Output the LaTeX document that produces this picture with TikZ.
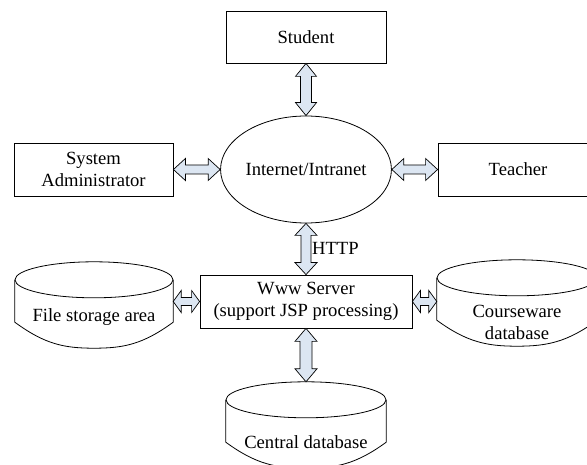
\documentclass[tikz,border=0pt]{standalone}
\usepackage{fontspec}
\setmainfont{Liberation Serif}
\usetikzlibrary{shapes.geometric,calc}
\definecolor{arrfill}{HTML}{DCE6F2}
\newcommand\fsz{\fontsize{18.6}{21.5}\selectfont}
\tikzset{
  box/.style={draw, line width=0.8pt, inner sep=0pt, align=center, font=\fsz},
  txt/.style={inner sep=0pt, align=center, font=\fsz},
  barrow/.style={draw, fill=arrfill, line width=0.7pt, line join=miter},
  cylline/.style={draw, line width=0.8pt},
}
% vertical double block arrow: from, to, shaft half, head half, head length
\newcommand\vdarr[5]{%
  \path[barrow] let \p1=(#1), \p2=(#2) in
    (\x1,\y1) -- (\x1+#4pt,\y1-#5pt) -- (\x1+#3pt,\y1-#5pt) -- (\x1+#3pt,\y2+#5pt)
    -- (\x1+#4pt,\y2+#5pt) -- (\x1,\y2) -- (\x1-#4pt,\y2+#5pt) -- (\x1-#3pt,\y2+#5pt)
    -- (\x1-#3pt,\y1-#5pt) -- (\x1-#4pt,\y1-#5pt) -- cycle;}
% horizontal double block arrow: left, right, shaft half, head half, head length
\newcommand\hdarr[5]{%
  \path[barrow] let \p1=(#1), \p2=(#2) in
    (\x1,\y1) -- (\x1+#5pt,\y1+#4pt) -- (\x1+#5pt,\y1+#3pt) -- (\x2-#5pt,\y1+#3pt)
    -- (\x2-#5pt,\y1+#4pt) -- (\x2,\y1) -- (\x2-#5pt,\y1-#4pt) -- (\x2-#5pt,\y1-#3pt)
    -- (\x1+#5pt,\y1-#3pt) -- (\x1+#5pt,\y1-#4pt) -- cycle;}
% cylinder: name, cx, ytop, width
\newcommand\cyl[4]{%
  \node[minimum width=#4pt, minimum height=60pt, inner sep=0pt] (#1) at (#2,#3+30) {};
  \draw[cylline] ($(#1.north)+(0,18)$) ellipse [x radius=#4/2, y radius=18];
  \draw[cylline] ($(#1.north west)+(0,18)$) -- (#1.south west)
    .. controls ($(#1.south west)+(30,22)$) and ($(#1.south)+(-30,26)$) .. ($(#1.south)+(0,26)$)
    .. controls ($(#1.south)+(30,26)$) and ($(#1.south east)+(-30,22)$) .. (#1.south east)
    -- ($(#1.north east)+(0,18)$);}
\begin{document}
\begin{tikzpicture}[x=1pt,y=-1pt]
\useasboundingbox (0,0) rectangle (587,465);
\clip (0,0) rectangle (587,465);

\node[box, minimum width=160pt, minimum height=52pt] (student) at (306,37) {Student};
\node[box, minimum width=159pt, minimum height=53pt] (sa) at (93.5,169.5) {System\\Administrator};
\node[box, minimum width=160pt, minimum height=53pt] (teacher) at (518,169.5) {Teacher};
\node[draw, ellipse, line width=0.8pt, minimum width=158pt, minimum height=107pt,
      inner sep=0pt, font=\fsz] (net) at (306,169.5) {Internet/Intranet};
\node[box, minimum width=212pt, minimum height=53pt] (server) at (306,301.5)
      {Www Server\\(support JSP processing)};

\cyl{fs}{94}{262}{158}
\cyl{cw}{517}{260}{160}
\cyl{cd}{306}{382}{160}
\node[txt] (fst) at (94,317) {File storage area};
\node[txt] (cwt) at (517,322.5) {Courseware\\database};
\node[txt] (cdt) at (306,442) {Central database};

\node[txt, anchor=west] (http) at (312,248) {HTTP};

\vdarr{student.south}{net.north}{5.5}{10.5}{13}
\vdarr{net.south}{server.north}{5}{11}{12}
\vdarr{server.south}{cd.north}{6}{11}{13}
\hdarr{sa.east}{net.west}{4.5}{11}{12}
\hdarr{net.east}{teacher.west}{4.5}{11}{12}
\hdarr{fs.east |- server.west}{server.west}{4}{11}{8}
\hdarr{server.east}{cw.west |- server.east}{4}{11}{8}
\end{tikzpicture}
\end{document}
